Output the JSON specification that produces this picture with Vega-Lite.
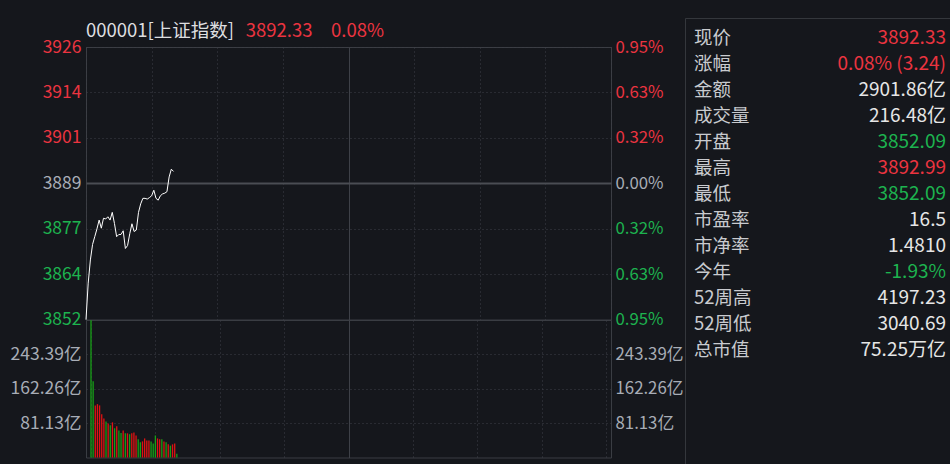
{
  "$schema": "https://vega.github.io/schema/vega-lite/v6.json",
  "background": "#15171c",
  "padding": {"left": 9, "top": 17, "right": 0, "bottom": 0},
  "config": {
    "font": "Noto Sans CJK SC",
    "view": {"stroke": "#3a3d43", "strokeWidth": 1},
    "axis": {"domain": false, "ticks": false, "title": null, "labelFont": "Noto Sans CJK SC", "labelFontSize": 17.5, "labelColor": "#a8adb6", "gridColor": "#3e4148", "gridDash": [1, 3], "labelOverlap": false}
  },
  "resolve": {"scale": {"color": "independent"}},
  "spacing": 0,
  "hconcat": [
    {
      "spacing": 0,
      "bounds": "flush",
      "vconcat": [
        {
          "width": 525,
          "height": 28.5,
          "view": {"stroke": null},
          "data": {"values": [
            {"t": "000001[上证指数]", "c": "name"}
          ]},
          "layer": [
            {
              "mark": {"type": "text", "align": "left", "baseline": "alphabetic", "dy": -9.5, "fontSize": 18.5, "fontWeight": "normal", "color": "#dedfe0"},
              "encoding": {
                "x": {"datum": 0, "type": "quantitative", "scale": {"domain": [0, 240], "nice": false, "zero": false}, "axis": null},
                "y": {"datum": 0, "type": "quantitative", "scale": {"domain": [0, 1], "nice": false, "zero": false}, "axis": null},
                "text": {"field": "t"}
              }
            },
            {
              "mark": {"type": "text", "align": "left", "baseline": "alphabetic", "dy": -9.5, "fontSize": 18.5, "fontWeight": "normal", "color": "#eb3440"},
              "encoding": {
                "x": {"datum": 73, "type": "quantitative", "scale": {"domain": [0, 240], "nice": false, "zero": false}, "axis": null},
                "y": {"datum": 0, "type": "quantitative", "scale": {"domain": [0, 1], "nice": false, "zero": false}, "axis": null},
                "text": {"value": "3892.33"}
              }
            },
            {
              "mark": {"type": "text", "align": "left", "baseline": "alphabetic", "dy": -9.5, "fontSize": 18.5, "fontWeight": "normal", "color": "#eb3440"},
              "encoding": {
                "x": {"datum": 112, "type": "quantitative", "scale": {"domain": [0, 240], "nice": false, "zero": false}, "axis": null},
                "y": {"datum": 0, "type": "quantitative", "scale": {"domain": [0, 1], "nice": false, "zero": false}, "axis": null},
                "text": {"value": "0.08%"}
              }
            }
          ]
        },
        {
          "width": 525,
          "height": 272.5,
          "data": {"values": [
            {"m": 0, "p": 3852.1}, {"m": 1, "p": 3862.0}, {"m": 2, "p": 3868.3}, {"m": 3, "p": 3872.5}, {"m": 4, "p": 3874.6},
            {"m": 5, "p": 3876.7}, {"m": 6, "p": 3879.1}, {"m": 7, "p": 3876.9}, {"m": 8, "p": 3879.6}, {"m": 9, "p": 3879.4},
            {"m": 10, "p": 3880.0}, {"m": 11, "p": 3879.1}, {"m": 12, "p": 3881.2}, {"m": 13, "p": 3878.2}, {"m": 14, "p": 3874.6},
            {"m": 15, "p": 3875.2}, {"m": 16, "p": 3875.2}, {"m": 17, "p": 3876.2}, {"m": 18, "p": 3871.4}, {"m": 19, "p": 3872.2},
            {"m": 20, "p": 3875.4}, {"m": 21, "p": 3878.1}, {"m": 22, "p": 3876.0}, {"m": 23, "p": 3876.4}, {"m": 24, "p": 3881.2},
            {"m": 25, "p": 3883.5}, {"m": 26, "p": 3885.0}, {"m": 27, "p": 3885.0}, {"m": 28, "p": 3884.8}, {"m": 29, "p": 3885.2},
            {"m": 30, "p": 3885.7}, {"m": 31, "p": 3887.2}, {"m": 32, "p": 3885.0}, {"m": 33, "p": 3884.5}, {"m": 34, "p": 3885.7},
            {"m": 35, "p": 3886.2}, {"m": 36, "p": 3886.4}, {"m": 37, "p": 3886.8}, {"m": 38, "p": 3890.8}, {"m": 39, "p": 3892.9},
            {"m": 40, "p": 3892.3}
          ]},
          "resolve": {"axis": {"y": "independent"}},
          "layer": [
            {
              "mark": {"type": "line", "color": "#ffffff", "strokeWidth": 1},
              "encoding": {
                "x": {"field": "m", "type": "quantitative", "scale": {"domain": [0, 240], "nice": false, "zero": false},
                  "axis": {"values": [0, 30, 60, 90, 120, 150, 180, 210, 240], "labels": false, "grid": true,
                    "gridDash": {"condition": {"test": "datum.value == 120", "value": []}, "value": [1, 3]}}},
                "y": {"field": "p", "type": "quantitative", "scale": {"domain": [3852.14, 3926.04], "nice": false, "zero": false},
                  "axis": {"orient": "left", "values": [3852.14, 3864.46, 3876.78, 3889.09, 3901.41, 3913.72, 3926.04], "format": ".0f", "labelPadding": 5, "grid": true,
                    "labelColor": {"condition": [{"test": "datum.value > 3890", "value": "#eb3440"}, {"test": "datum.value < 3888", "value": "#1db34f"}], "value": "#a8adb6"},
                    "gridDash": {"condition": {"test": "abs(datum.value - 3889.09) < 1", "value": []}, "value": [1, 3]},
                    "gridColor": {"condition": {"test": "abs(datum.value - 3889.09) < 1", "value": "#4a4d53"}, "value": "#3e4148"},
                    "gridWidth": {"condition": {"test": "abs(datum.value - 3889.09) < 1", "value": 2}, "value": 1}}}
              }
            },
            {
              "mark": {"type": "line", "opacity": 0},
              "encoding": {
                "x": {"field": "m", "type": "quantitative", "scale": {"domain": [0, 240], "nice": false, "zero": false}},
                "y": {"field": "p", "type": "quantitative", "scale": {"domain": [3852.14, 3926.04], "nice": false, "zero": false},
                  "axis": {"orient": "right", "values": [3852.14, 3864.46, 3876.78, 3889.09, 3901.41, 3913.72, 3926.04], "labelPadding": 4, "labelFontSize": 16.8, "grid": false,
                    "labelExpr": "format(abs(datum.value - 3889.09) / 3889.09 * 100, '.2f') + '%'",
                    "labelColor": {"condition": [{"test": "datum.value > 3890", "value": "#eb3440"}, {"test": "datum.value < 3888", "value": "#1db34f"}], "value": "#a8adb6"}}}
              }
            }
          ]
        },
        {
          "width": 525,
          "height": 137.5,
          "data": {"values": [
            {"m": 0, "v": 324, "d": "down"}, {"m": 1, "v": 180, "d": "down"}, {"m": 2, "v": 123, "d": "up"}, {"m": 3, "v": 126, "d": "up"},
            {"m": 4, "v": 123, "d": "up"}, {"m": 5, "v": 102, "d": "up"}, {"m": 6, "v": 92, "d": "up"}, {"m": 7, "v": 85, "d": "down"},
            {"m": 8, "v": 80, "d": "up"}, {"m": 9, "v": 76, "d": "down"}, {"m": 10, "v": 83, "d": "up"}, {"m": 11, "v": 69, "d": "down"},
            {"m": 12, "v": 74, "d": "up"}, {"m": 13, "v": 64, "d": "down"}, {"m": 14, "v": 58, "d": "down"}, {"m": 15, "v": 64, "d": "up"},
            {"m": 16, "v": 57, "d": "down"}, {"m": 17, "v": 57, "d": "up"}, {"m": 18, "v": 55, "d": "down"}, {"m": 19, "v": 57, "d": "up"},
            {"m": 20, "v": 59, "d": "up"}, {"m": 21, "v": 52, "d": "up"}, {"m": 22, "v": 43, "d": "down"}, {"m": 23, "v": 36, "d": "down"},
            {"m": 24, "v": 38, "d": "up"}, {"m": 25, "v": 45, "d": "up"}, {"m": 26, "v": 40, "d": "up"}, {"m": 27, "v": 40, "d": "up"},
            {"m": 28, "v": 38, "d": "down"}, {"m": 29, "v": 33, "d": "down"}, {"m": 30, "v": 52, "d": "down"}, {"m": 31, "v": 45, "d": "up"},
            {"m": 32, "v": 43, "d": "up"}, {"m": 33, "v": 43, "d": "down"}, {"m": 34, "v": 38, "d": "up"}, {"m": 35, "v": 36, "d": "down"},
            {"m": 36, "v": 31, "d": "up"}, {"m": 37, "v": 28, "d": "down"}, {"m": 38, "v": 31, "d": "up"}, {"m": 39, "v": 33, "d": "up"},
            {"m": 40, "v": 9, "d": "down"}
          ]},
          "resolve": {"axis": {"y": "independent"}},
          "layer": [
            {
              "mark": {"type": "bar", "size": 1.3},
              "encoding": {
                "x": {"field": "m", "type": "quantitative", "scale": {"domain": [0, 240], "nice": false, "zero": false},
                  "axis": {"values": [0, 30, 60, 90, 120, 150, 180, 210, 240], "labels": false, "grid": true,
                    "gridDash": {"condition": {"test": "datum.value == 120", "value": []}, "value": [1, 3]}}},
                "y": {"field": "v", "type": "quantitative", "scale": {"domain": [0, 324.52], "nice": false},
                  "axis": {"orient": "left", "values": [81.13, 162.26, 243.39], "labelExpr": "format(datum.value, '.2f') + '亿'", "labelPadding": 5, "grid": true}},
                "color": {"field": "d", "type": "nominal", "scale": {"domain": ["up", "down"], "range": ["#e01212", "#16a016"]}, "legend": null}
              }
            },
            {
              "mark": {"type": "bar", "size": 1.3, "opacity": 0},
              "encoding": {
                "x": {"field": "m", "type": "quantitative", "scale": {"domain": [0, 240], "nice": false, "zero": false}},
                "y": {"field": "v", "type": "quantitative", "scale": {"domain": [0, 324.52], "nice": false},
                  "axis": {"orient": "right", "values": [81.13, 162.26, 243.39], "labelExpr": "format(datum.value, '.2f') + '亿'", "labelPadding": 4, "labelFontSize": 16.8, "grid": false}}
              }
            }
          ]
        }
      ]
    },
    {
      "width": 267,
      "height": 447,
      "view": {"stroke": "#34373c"},
      "data": {"values": [
        {"k": "现价", "v": "3892.33", "c": "up"},
        {"k": "涨幅", "v": "0.08% (3.24)", "c": "up"},
        {"k": "金额", "v": "2901.86亿", "c": "flat"},
        {"k": "成交量", "v": "216.48亿", "c": "flat"},
        {"k": "开盘", "v": "3852.09", "c": "down"},
        {"k": "最高", "v": "3892.99", "c": "up"},
        {"k": "最低", "v": "3852.09", "c": "down"},
        {"k": "市盈率", "v": "16.5", "c": "flat"},
        {"k": "市净率", "v": "1.4810", "c": "flat"},
        {"k": "今年", "v": "-1.93%", "c": "down"},
        {"k": "52周高", "v": "4197.23", "c": "flat"},
        {"k": "52周低", "v": "3040.69", "c": "flat"},
        {"k": "总市值", "v": "75.25万亿", "c": "flat"}
      ]},
      "layer": [
        {
          "mark": {"type": "text", "align": "left", "baseline": "middle", "fontSize": 18.5, "color": "#c9cbcf"},
          "encoding": {
            "x": {"datum": "label", "type": "nominal", "scale": {"type": "point", "domain": ["label", "value"], "padding": 0, "range": [9, 261]}, "axis": null},
            "y": {"field": "k", "type": "nominal", "sort": null, "scale": {"type": "point", "padding": 0, "range": [20, 331.7]}, "axis": null},
            "text": {"field": "k"}
          }
        },
        {
          "mark": {"type": "text", "align": "right", "baseline": "middle", "fontSize": 19},
          "encoding": {
            "x": {"datum": "value", "type": "nominal", "scale": {"type": "point", "domain": ["label", "value"], "padding": 0, "range": [9, 261]}, "axis": null},
            "y": {"field": "k", "type": "nominal", "sort": null, "scale": {"type": "point", "padding": 0, "range": [20, 331.7]}, "axis": null},
            "text": {"field": "v"},
            "color": {"field": "c", "type": "nominal", "scale": {"domain": ["up", "down", "flat"], "range": ["#eb3440", "#1db34f", "#e6e6e6"]}, "legend": null}
          }
        }
      ]
    }
  ]
}
